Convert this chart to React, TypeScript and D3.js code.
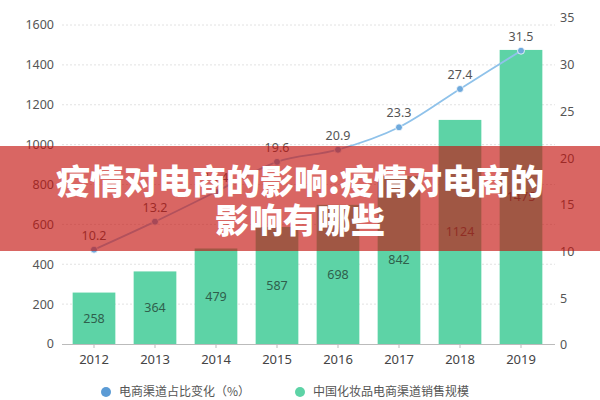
import React from 'react';
import * as d3 from 'd3';

const years = ['2012', '2013', '2014', '2015', '2016', '2017', '2018', '2019'];
const salesValues = [258, 364, 479, 587, 698, 842, 1124, 1475];
const shareValues = [10.2, 13.2, 16.4, 19.6, 20.9, 23.3, 27.4, 31.5];
const leftTicks = [0, 200, 400, 600, 800, 1000, 1200, 1400, 1600];
const rightTicks = [0, 5, 10, 15, 20, 25, 30, 35];
const shareLabel = '电商渠道占比变化（%）';
const salesLabel = '中国化妆品电商渠道销售规模';
const titleLines = ['疫情对电商的影响:疫情对电商的', '影响有哪些'];

const W = 600;
const H = 400;
const left = 62;
const right = 555;

const FONT = "'Noto Sans', 'Noto Sans CJK SC', sans-serif";
const CJK = "'Noto Sans CJK SC', sans-serif";

const App: React.FC = () => {
  const x = d3.scaleBand<string>().domain(years).range([63.5, 551.5]).paddingInner(0.3).paddingOuter(0.15);
  const yL = d3.scaleLinear().domain([0, 1600]).range([344, 25]);
  const yR = d3.scaleLinear().domain([0, 35]).range([345, 18]);

  const cx = (d: string) => (x(d) ?? 0) + x.bandwidth() / 2;

  const line = d3
    .line<number>()
    .x((_, i) => cx(years[i]))
    .y(d => yR(d))
    .curve(d3.curveMonotoneX);

  return (
    <svg width={W} height={H} style={{ position: 'absolute', left: 0, top: 0, background: '#fff' }}>
      {/* grid */}
      <g>
        {leftTicks.slice(1).map(t => (
          <line key={t} x1={left} x2={right} y1={yL(t)} y2={yL(t)} stroke="#e2e2e2" strokeDasharray="2,2" />
        ))}
      </g>

      {/* left axis labels */}
      <g fontFamily={FONT} fontSize={12.5} fill="#555" textAnchor="end">
        {leftTicks.map(t => (
          <text key={t} x={54} y={yL(t)} dy="0.35em">{t}</text>
        ))}
      </g>

      {/* right axis labels */}
      <g fontFamily={FONT} fontSize={12.5} fill="#555" textAnchor="start">
        {rightTicks.map(t => (
          <text key={t} x={560} y={yR(t)} dy="0.35em">{t}</text>
        ))}
      </g>

      {/* bars */}
      <g>
        {salesValues.map((v, i) => (
          <rect key={years[i]} x={x(years[i])} y={yL(v)} width={x.bandwidth()} height={yL(0) - yL(v)} fill="#5dd3a6" />
        ))}
      </g>
      <g fontFamily={FONT} fontSize={12.5} fill="#2f5f4c" textAnchor="middle">
        {salesValues.map((v, i) => (
          <text key={years[i]} x={cx(years[i])} y={(yL(v) + yL(0)) / 2} dy="0.35em">{v}</text>
        ))}
      </g>

      {/* baseline axis */}
      <line x1={left} x2={right} y1={344.5} y2={344.5} stroke="#bbb" />
      {years.map(d => (
        <line key={d} x1={cx(d)} x2={cx(d)} y1={344.5} y2={348} stroke="#bbb" />
      ))}
      <g fontFamily={FONT} fontSize={13} fill="#444" textAnchor="middle">
        {years.map(d => (
          <text key={d} x={cx(d)} y={359} dy="0.35em">{d}</text>
        ))}
      </g>

      {/* share line */}
      <path d={line(shareValues) || ''} fill="none" stroke="#8fc2ea" strokeWidth={1.8} />
      {shareValues.map((v, i) => (
        <circle key={years[i]} cx={cx(years[i])} cy={yR(v)} r={3.5} fill="#6ea9dc" stroke="#fff" strokeWidth={0.8} />
      ))}
      <g fontFamily={FONT} fontSize={12.5} fill="#555" textAnchor="middle">
        {shareValues.map((v, i) => (
          <text key={years[i]} x={cx(years[i])} y={yR(v) - 10}>{v}</text>
        ))}
      </g>

      {/* legend */}
      <g fontFamily={CJK} fontSize={12} fill="#555">
        <circle cx={106} cy={392} r={5} fill="#5b9bd5" />
        <text x={119} y={392} dy="0.35em">{shareLabel}</text>
        <circle cx={300} cy={392} r={5} fill="#5dd3a6" />
        <text x={313} y={392} dy="0.35em">{salesLabel}</text>
      </g>

      {/* title banner */}
      <rect x={0} y={146} width={W} height={105} fill="rgb(197,20,15)" fillOpacity={0.65} />
      <g fontFamily={CJK} fontSize={34} fontWeight={900} fill="#fff" textAnchor="middle">
        <text x={W / 2} y={182} dy="0.36em">{titleLines[0]}</text>
        <text x={W / 2} y={221} dy="0.36em">{titleLines[1]}</text>
      </g>
    </svg>
  );
};

export default App;
